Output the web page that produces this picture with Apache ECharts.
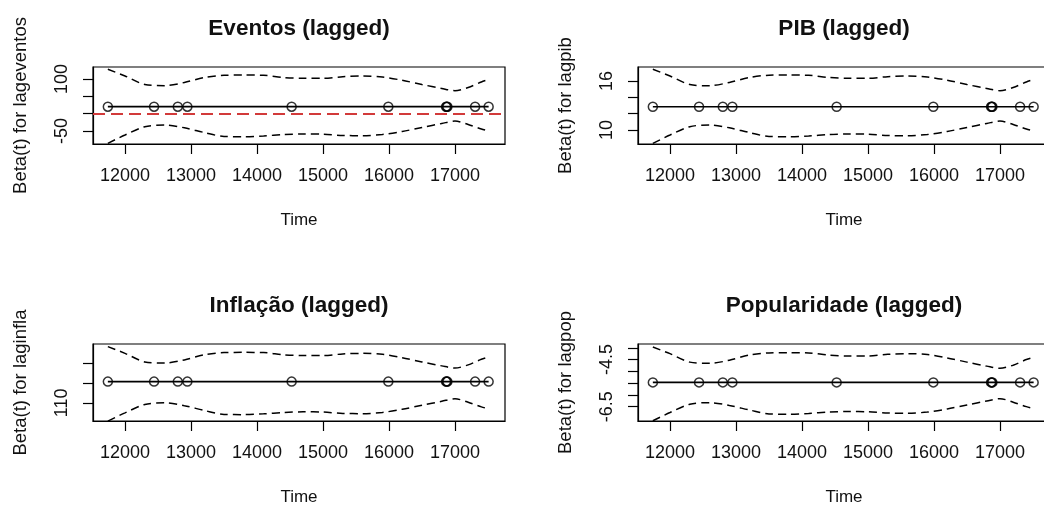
<!DOCTYPE html>
<html><head><meta charset="utf-8">
<script src="https://cdn.jsdelivr.net/npm/echarts@6/dist/echarts.min.js"></script>
<style>html,body{margin:0;padding:0;background:#fff}#c{width:1044px;height:510px}</style>
</head><body><div id="c"></div>
<script>
// ---- data ----
const panelTitles = ['Eventos (lagged)', 'PIB (lagged)', 'Inflação (lagged)', 'Popularidade (lagged)'];
const yAxisNames = ['Beta(t) for lageventos', 'Beta(t) for lagpib', 'Beta(t) for laginfla', 'Beta(t) for lagpop'];
const xTickValues = [12000, 13000, 14000, 15000, 16000, 17000];
const xRange = [11515, 17758];

const pointTimes = [11740, 12440, 12800, 12945, 14525, 15990, 16865, 16875, 16885, 17305, 17510];
const curveTimes = [11740, 12000, 12300, 12600, 12900, 13200, 13500, 13800, 14100, 14400, 14700, 15000, 15300, 15600, 15900, 16200, 16500, 16800, 17000, 17200, 17400, 17510];

// Eventos
const betaEventos = 20.1;
const upperEventos = [128.0, 108.7, 84.1, 80.7, 89.9, 104.3, 110.7, 111.5, 110.7, 104.3, 102.0, 102.0, 106.6, 108.7, 105.8, 96.3, 84.1, 72.6, 66.3, 75.5, 91.3, 98.6];
const lowerEventos = [-85.5, -61.5, -37.6, -32.7, -40.8, -54.3, -65.8, -66.4, -64.4, -60.1, -58.6, -59.2, -62.9, -63.5, -60.1, -51.4, -39.9, -28.4, -21.2, -31.3, -44.2, -50.0];
const yRangeEventos = [-87.5, 134.6];
const yTicksEventos = [-50, 0, 50, 100];
const yLabelsEventos = [-50, 100];

// PIB
const betaPib = 12.85;
const upperPib = [17.43, 16.61, 15.57, 15.42, 15.82, 16.43, 16.70, 16.73, 16.70, 16.43, 16.33, 16.33, 16.53, 16.61, 16.49, 16.09, 15.57, 15.08, 14.81, 15.20, 15.88, 16.18];
const lowerPib = [8.37, 9.39, 10.41, 10.61, 10.27, 9.70, 9.21, 9.18, 9.27, 9.45, 9.51, 9.49, 9.33, 9.30, 9.45, 9.82, 10.31, 10.80, 11.10, 10.68, 10.12, 9.88];
const yRangePib = [8.29, 17.71];
const yTicksPib = [10, 12, 14, 16];
const yLabelsPib = [10, 16];

// Inflação
const betaInfla = 120.7;
const upperInfla = [138.3, 134.9, 130.6, 130.0, 131.6, 134.2, 135.3, 135.4, 135.3, 134.2, 133.8, 133.8, 134.6, 134.9, 134.4, 132.7, 130.6, 128.6, 127.5, 129.1, 131.9, 133.1];
const lowerInfla = [100.8, 105.0, 109.2, 110.1, 108.6, 106.2, 104.2, 104.1, 104.5, 105.2, 105.5, 105.4, 104.7, 104.6, 105.2, 106.8, 108.8, 110.8, 112.1, 110.3, 108.0, 107.0];
const yRangeInfla = [100.9, 139.6];
const yTicksInfla = [110, 120, 130];
const yLabelsInfla = [110];

// Popularidade
const betaPop = -5.47;
const upperPop = [-3.97, -4.25, -4.61, -4.66, -4.53, -4.31, -4.22, -4.21, -4.22, -4.31, -4.35, -4.35, -4.28, -4.25, -4.29, -4.43, -4.61, -4.78, -4.87, -4.74, -4.50, -4.40];
const lowerPop = [-7.10, -6.75, -6.40, -6.33, -6.45, -6.64, -6.81, -6.82, -6.79, -6.73, -6.71, -6.72, -6.77, -6.78, -6.73, -6.60, -6.43, -6.26, -6.16, -6.31, -6.50, -6.58];
const yRangePop = [-7.11, -3.84];
const yTicksPop = [-6.5, -6.0, -5.5, -5.0, -4.5, -4.0];
const yLabelsPop = [-6.5, -4.5];

// ---- chart ----
const panels = [
  {beta: betaEventos, upper: upperEventos, lower: lowerEventos, yr: yRangeEventos, yt: yTicksEventos, yl: yLabelsEventos, zero: true},
  {beta: betaPib, upper: upperPib, lower: lowerPib, yr: yRangePib, yt: yTicksPib, yl: yLabelsPib},
  {beta: betaInfla, upper: upperInfla, lower: lowerInfla, yr: yRangeInfla, yt: yTicksInfla, yl: yLabelsInfla},
  {beta: betaPop, upper: upperPop, lower: lowerPop, yr: yRangePop, yt: yTicksPop, yl: yLabelsPop}
];
const layout = [
  {left: 93, top: 67}, {left: 638, top: 67}, {left: 93, top: 344}, {left: 638, top: 344}
];
const W = 412, H = 77;
const FONT = '"Liberation Sans", Arial, sans-serif';
const TXT = '#111';

const grids = [], xAxes = [], yAxes = [], series = [], titles = [];
panels.forEach((p, i) => {
  const L = layout[i];
  grids.push({left: L.left, top: L.top, width: W, height: H, show: true, borderColor: '#000', borderWidth: 1.2, containLabel: false, outerBoundsMode: 'none'});
  titles.push({text: panelTitles[i], left: L.left + W / 2, top: L.top - 50, textAlign: 'center', padding: 0,
    textStyle: {fontFamily: FONT, fontSize: 22.5, fontWeight: 'bold', color: TXT}});
  xAxes.push({type: 'value', gridIndex: i, min: xRange[0], max: xRange[1],
    name: 'Time', nameLocation: 'middle', nameGap: 68,
    nameTextStyle: {fontFamily: FONT, fontSize: 17, color: TXT},
    axisLine: {show: true, onZero: false, lineStyle: {color: '#000', width: 1.2}},
    axisTick: {show: true, inside: false, length: 10, customValues: xTickValues, lineStyle: {color: '#000', width: 1.2}},
    axisLabel: {show: true, margin: 23, customValues: xTickValues, formatter: v => String(v), fontFamily: FONT, fontSize: 18, color: TXT},
    splitLine: {show: false}});
  yAxes.push({type: 'value', gridIndex: i, min: p.yr[0], max: p.yr[1],
    name: yAxisNames[i], nameLocation: 'middle', nameGap: 63,
    nameTextStyle: {fontFamily: FONT, fontSize: 18.5, color: TXT},
    axisLine: {show: true, onZero: false, lineStyle: {color: '#000', width: 1.2}},
    axisTick: {show: true, inside: false, length: 10, customValues: p.yt, lineStyle: {color: '#000', width: 1.2}},
    axisLabel: {show: true, rotate: 90, margin: 22, customValues: p.yl, formatter: v => String(v), fontFamily: FONT, fontSize: 18, color: TXT},
    splitLine: {show: false}});

  const centre = {type: 'line', xAxisIndex: i, yAxisIndex: i, showSymbol: false, silent: true,
    data: pointTimes.map(t => [t, p.beta]), lineStyle: {color: '#000', width: 1.7}, z: 3};
  if (p.zero) {
    centre.markLine = {silent: true, symbol: ['none', 'none'], label: {show: false},
      lineStyle: {color: '#d23a3a', type: [12, 6], width: 1.8}, data: [{yAxis: 0}]};
  }
  series.push(centre);
  series.push({type: 'scatter', xAxisIndex: i, yAxisIndex: i, symbol: 'circle', symbolSize: 9, silent: true,
    data: pointTimes.map(t => [t, p.beta]),
    itemStyle: {color: 'rgba(0,0,0,0)', borderColor: '#000', borderWidth: 1.5}, z: 4});
  [p.upper, p.lower].forEach(arr => {
    series.push({type: 'line', xAxisIndex: i, yAxisIndex: i, showSymbol: false, smooth: 0.3, silent: true,
      data: curveTimes.map((t, k) => [t, arr[k]]),
      lineStyle: {color: '#000', width: 1.5, type: [8, 5]}, z: 2});
  });
});

const chart = echarts.init(document.getElementById('c'), null, {renderer: 'canvas'});
chart.setOption({animation: false, backgroundColor: '#fff', title: titles, grid: grids, xAxis: xAxes, yAxis: yAxes, series: series});
</script>
</body></html>
